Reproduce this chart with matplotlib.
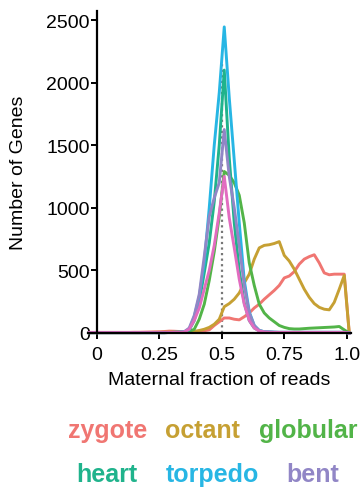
import matplotlib
matplotlib.use('Agg')
import matplotlib.pyplot as plt

# Data
x = [-0.03, -0.01, 0.01, 0.03, 0.05, 0.07, 0.09, 0.11, 0.13, 0.15,
     0.17, 0.19, 0.21, 0.23, 0.25, 0.27, 0.29, 0.31, 0.33, 0.35,
     0.37, 0.39, 0.41, 0.43, 0.45, 0.47, 0.49, 0.51, 0.53, 0.55,
     0.57, 0.59, 0.61, 0.63, 0.65, 0.67, 0.69, 0.71, 0.73, 0.75,
     0.77, 0.79, 0.81, 0.83, 0.85, 0.87, 0.89, 0.91, 0.93, 0.95,
     0.97, 0.99, 1.01]

zygote = [5, 5, 5, 5, 5, 5, 5, 5, 5, 6, 6, 7, 8, 9,
          10, 12, 15, 14, 12, 10, 10, 12, 15, 18,
          25, 60, 90, 120, 120, 110, 105, 130, 160, 200,
          230, 270, 305, 340, 380, 440, 455, 490, 550, 590,
          610, 625, 560, 480, 465, 470, 470, 470, 0]
octant = [3, 3, 3, 3, 3, 3, 3, 3, 3, 3, 3, 4, 4, 5,
          5, 6, 6, 7, 8, 9, 10, 12, 20, 30,
          45, 70, 110, 210, 235, 270, 320, 400, 470, 590,
          680, 700, 705, 715, 730, 620, 575, 510, 430, 350,
          285, 235, 205, 190, 185, 245, 350, 460, 0]
globular = [3, 3, 3, 3, 3, 3, 3, 3, 3, 3, 3, 3, 3, 3,
            3, 3, 4, 5, 6, 8, 12, 30, 110, 230,
            420, 650, 930, 1290, 1260, 1200, 1100, 880, 560, 380,
            230, 160, 120, 90, 60, 45, 35, 32, 32, 35,
            38, 40, 42, 44, 46, 48, 52, 25, 0]
heart = [3, 3, 3, 3, 3, 3, 3, 3, 3, 3, 3, 3, 3, 3,
         3, 3, 4, 5, 6, 10, 25, 100, 250, 480,
         720, 1050, 1500, 2100, 1400, 880, 500, 240, 100, 40,
         18, 10, 8, 6, 5, 5, 5, 5, 5, 5,
         5, 5, 5, 5, 5, 5, 5, 5, 0]
torpedo = [3, 3, 3, 3, 3, 3, 3, 3, 3, 3, 3, 3, 3, 3,
           3, 3, 4, 5, 6, 10, 30, 130, 290, 560,
           1000, 1500, 1920, 2445, 1880, 1380, 880, 420, 170, 60,
           20, 10, 8, 6, 5, 5, 5, 5, 5, 5,
           5, 5, 5, 5, 5, 5, 5, 5, 0]
bent = [3, 3, 3, 3, 3, 3, 3, 3, 3, 3, 3, 3, 3, 3,
        3, 3, 4, 5, 6, 10, 40, 140, 310, 610,
        930, 1080, 1200, 1625, 1250, 1000, 700, 380, 160, 60,
        20, 10, 8, 6, 5, 5, 5, 5, 5, 5,
        5, 5, 5, 5, 5, 5, 5, 5, 0]
extra_pink = [3, 3, 3, 3, 3, 3, 3, 3, 3, 3, 3, 3, 3, 3,
              3, 3, 4, 5, 6, 8, 30, 100, 200, 350,
              500, 700, 960, 1250, 920, 680, 430, 230, 100, 40,
              15, 8, 6, 5, 5, 5, 5, 5, 5, 5,
              5, 5, 5, 5, 5, 5, 5, 5, 0]

stage_names = ['zygote', 'octant', 'globular', 'heart', 'torpedo', 'bent']
stage_values = [zygote, octant, globular, heart, torpedo, bent]
stage_colors = ['#F07672', '#C6A033', '#52B448', '#20B38C', '#27B6E4', '#9186C6']
PINK = '#E26CC0'

x_ticks = [0, 0.25, 0.5, 0.75, 1.0]
x_tick_labels = ['0', '0.25', '0.5', '0.75', '1.0']
y_ticks = [0, 500, 1000, 1500, 2000, 2500]

plt.rcParams['font.family'] = ['Liberation Sans', 'DejaVu Sans']

W, H = 362, 489
fig = plt.figure(figsize=(W / 100, H / 100), dpi=100)
ax = fig.add_axes([88 / W, 1 - 334 / H, 262.5 / W, 322 / H])

ax.vlines(0.5, 0, 2150, colors='#777777', linestyles=(0, (1, 1.5)), linewidth=1.6, zorder=1)

for vals, col in zip(stage_values, stage_colors):
    ax.plot(x, vals, color=col, linewidth=2.1, zorder=2, clip_on=False)
ax.plot(x, extra_pink, color=PINK, linewidth=2.1, zorder=2, clip_on=False)

ax.set_xlim(-0.035, 1.015)
ax.set_ylim(0, 2572)
ax.set_xticks(x_ticks)
ax.set_xticklabels(x_tick_labels)
ax.set_yticks(y_ticks)

for s in ['top', 'right']:
    ax.spines[s].set_visible(False)
ax.spines['left'].set_position(('data', 0))
ax.spines['left'].set_linewidth(1.6)
ax.spines['bottom'].set_linewidth(1.6)
ax.tick_params(axis='both', length=4, width=1.4, labelsize=14, color='black')
ax.tick_params(axis='y', pad=1)
ax.tick_params(axis='x', pad=5)

ax.set_xlabel('Maternal fraction of reads', fontsize=14, labelpad=6)
ax.set_ylabel('Number of Genes', fontsize=14)
ax.yaxis.set_label_coords(-0.232, 0.5)

# coloured text legend in two rows
legend_centers = [(107.5, 438), (202, 438), (308, 438),
                  (107, 482), (212, 482), (312.5, 482)]
for name, col, (cx, cy) in zip(stage_names, stage_colors, legend_centers):
    fig.text(cx / W, 1 - cy / H, name, color=col, fontsize=18,
             fontweight='bold', ha='center', va='baseline')

fig.savefig('out.png', dpi=100)
